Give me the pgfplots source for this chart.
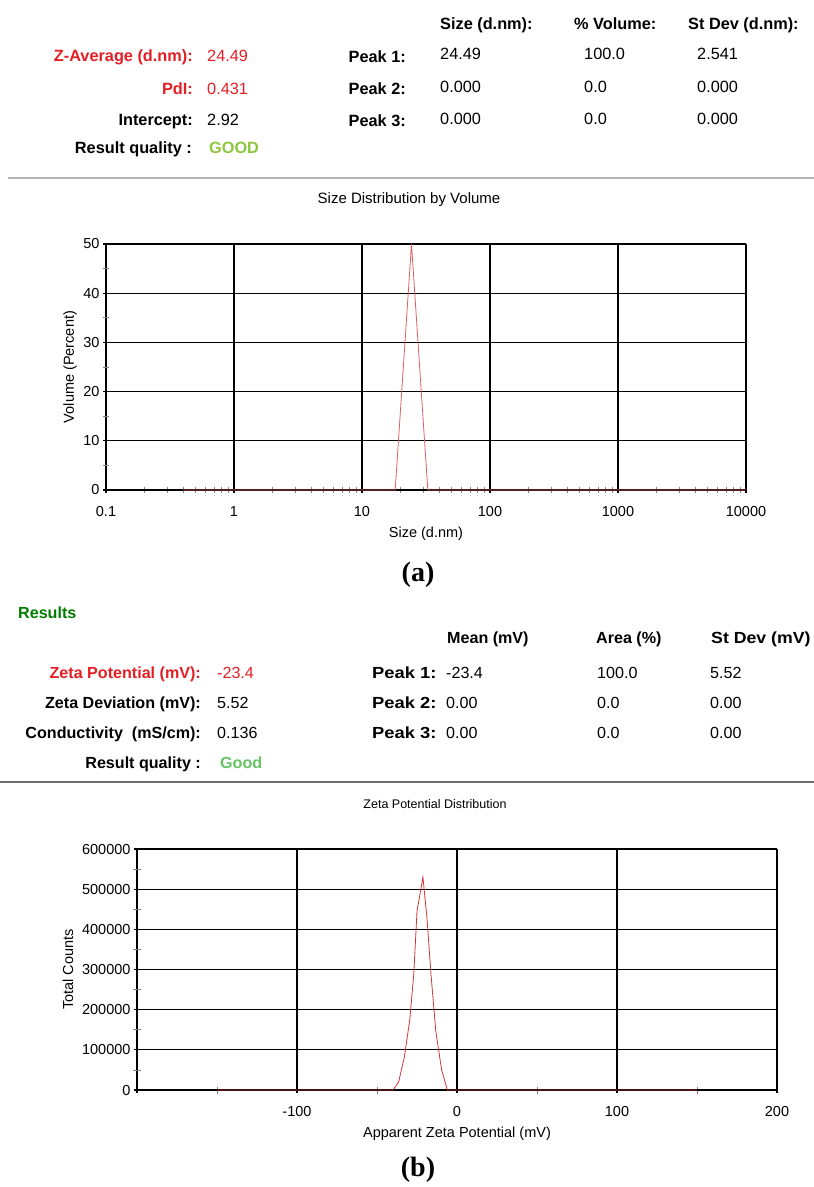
\documentclass[border=0pt]{standalone}
\usepackage{fontspec}
\setmainfont{Liberation Sans}
\newfontfamily\timesfont{Liberation Serif}
\usepackage{graphicx}
\usepackage{pgfplots}
\pgfplotsset{compat=1.18}
\definecolor{zred}{RGB}{228,30,36}
\definecolor{lgreen}{RGB}{141,198,63}
\definecolor{mgreen}{RGB}{100,196,100}
\definecolor{dgreen}{RGB}{0,125,0}
\definecolor{predA}{RGB}{225,95,95}
\definecolor{predB}{RGB}{205,55,55}
\newcommand{\tf}{\fontsize{16.3}{19}\selectfont}
\newcommand{\bff}{\fontsize{16.1}{19}\selectfont}
\newcommand{\tkf}{\fontsize{14.5}{16}\selectfont}
\begin{document}
\begin{tikzpicture}
\path[use as bounding box] (0pt,0pt) rectangle (814pt,-1187pt);
% ---------- top table ----------
\begin{scope}[every node/.style={inner sep=0pt,font=\tf}]
\node[anchor=base west,font=\tf\bfseries] at (440pt,-29pt) {Size (d.nm):};
\node[anchor=base west,font=\tf\bfseries] at (574pt,-29pt) {\% Volume:};
\node[anchor=base west,font=\tf\bfseries] at (688pt,-29pt) {St Dev (d.nm):};
\node[anchor=base east,font=\tf\bfseries,text=zred] at (193pt,-61pt) {Z-Average (d.nm):};
\node[anchor=base west,text=zred] at (207pt,-61pt) {24.49};
\node[anchor=base east,font=\tf\bfseries,text=zred] at (193pt,-94pt) {PdI:};
\node[anchor=base west,text=zred] at (207pt,-94pt) {0.431};
\node[anchor=base east,font=\tf\bfseries] at (193pt,-125pt) {Intercept:};
\node[anchor=base west] at (207pt,-125pt) {2.92};
\node[anchor=base east,font=\tf\bfseries] at (192pt,-153pt) {Result quality :};
\node[anchor=base west,font=\tf\bfseries,text=lgreen] at (209pt,-153pt) {GOOD};
\node[anchor=base east,font=\tf\bfseries] at (406pt,-62pt) {Peak 1:};
\node[anchor=base east,font=\tf\bfseries] at (406pt,-94pt) {Peak 2:};
\node[anchor=base east,font=\tf\bfseries] at (406pt,-126pt) {Peak 3:};
\node[anchor=base west] at (440pt,-59pt) {24.49};
\node[anchor=base west] at (440pt,-92pt) {0.000};
\node[anchor=base west] at (440pt,-124pt) {0.000};
\node[anchor=base west] at (584pt,-59pt) {100.0};
\node[anchor=base west] at (584pt,-92pt) {0.0};
\node[anchor=base west] at (584pt,-124pt) {0.0};
\node[anchor=base west] at (697pt,-59pt) {2.541};
\node[anchor=base west] at (697pt,-92pt) {0.000};
\node[anchor=base west] at (697pt,-124pt) {0.000};
\end{scope}
\draw[line width=1.8pt,color={rgb,255:red,180;green,180;blue,180}] (8pt,-178pt) -- (814pt,-178pt);
\node[font=\fontsize{15}{17}\selectfont] at (409pt,-200pt) {Size Distribution by Volume};
% ---------- plot a ----------
\begin{axis}[
  at={(106pt,-244pt)}, anchor=north west, scale only axis,
  width=640pt, height=246pt,
  xmode=log, xmin=0.1, xmax=10000, ymin=0, ymax=50,
  xtick={0.1,1,10,100,1000,10000},
  xticklabels={0.1,1,10,100,1000,10000},
  ytick={10,20,30,40,50},
  extra y ticks={0}, extra y tick labels={0},
  extra y tick style={grid style={color=gray,line width=1pt}},
  minor ytick={5,15,25,35,45},
  axis line style={draw=none},
  grid=major, major grid style={black,line width=1.3pt},
  tick pos=left, tick align=center,
  major tick length=6pt, minor tick length=6pt,
  major tick style={black,line width=1.2pt},
  minor tick style={gray,line width=0.7pt},
  ticklabel style={font=\tkf},
  /pgf/number format/assume math mode=true,
  xticklabel style={yshift=-10pt},
  xlabel={Size (d.nm)}, ylabel={Volume (Percent)},
  label style={font=\fontsize{14.5}{16}\selectfont},
  xlabel style={at={(axis description cs:0.5,0)},anchor=north,yshift=-33pt},
  ylabel style={at={(axis description cs:0,0.5)},anchor=center,yshift=36pt},
  clip=false,
]
\addplot[predA,line width=0.8pt] coordinates {(0.4,0) (18.17,0) (21.04,25) (24.36,50) (28.21,25) (32.67,0) (10000,0)};
\end{axis}
\node[font=\timesfont\bfseries\fontsize{28}{30}\selectfont] at (418pt,-575pt) {(a)};
% ---------- bottom table ----------
\begin{scope}[every node/.style={inner sep=0pt,font=\bff}]
\node[anchor=base west,font=\bff\bfseries,text=dgreen] at (18pt,-618pt) {Results};
\node[anchor=base west,font=\bff\bfseries] at (447pt,-643pt) {Mean (mV)};
\node[anchor=base west,font=\bff\bfseries] at (596pt,-643pt) {Area (\%)};
\node[anchor=base west,font=\bff\bfseries] at (711pt,-643pt) {\scalebox{1.1}[1]{St Dev (mV)}};
\node[anchor=base east,font=\bff\bfseries,text=zred] at (201pt,-678pt) {Zeta Potential (mV):};
\node[anchor=base west,text=zred] at (217pt,-678pt) {-23.4};
\node[anchor=base east,font=\bff\bfseries] at (201pt,-708pt) {Zeta Deviation (mV):};
\node[anchor=base west] at (217pt,-708pt) {5.52};
\node[anchor=base east,font=\bff\bfseries] at (201pt,-738pt) {Conductivity\ \ (mS/cm):};
\node[anchor=base west] at (217pt,-738pt) {0.136};
\node[anchor=base east,font=\bff\bfseries] at (201pt,-768pt) {Result quality :};
\node[anchor=base west,font=\bff\bfseries,text=mgreen] at (220pt,-768pt) {Good};
\node[anchor=base west,font=\bff\bfseries] at (372pt,-678pt) {\scalebox{1.14}[1]{Peak 1:}};
\node[anchor=base west,font=\bff\bfseries] at (372pt,-708pt) {\scalebox{1.14}[1]{Peak 2:}};
\node[anchor=base west,font=\bff\bfseries] at (372pt,-738pt) {\scalebox{1.14}[1]{Peak 3:}};
\node[anchor=base west] at (446pt,-678pt) {-23.4};
\node[anchor=base west] at (446pt,-708pt) {0.00};
\node[anchor=base west] at (446pt,-738pt) {0.00};
\node[anchor=base west] at (597pt,-678pt) {100.0};
\node[anchor=base west] at (597pt,-708pt) {0.0};
\node[anchor=base west] at (597pt,-738pt) {0.0};
\node[anchor=base west] at (710pt,-678pt) {5.52};
\node[anchor=base west] at (710pt,-708pt) {0.00};
\node[anchor=base west] at (710pt,-738pt) {0.00};
\end{scope}
\draw[line width=1.6pt,color={rgb,255:red,110;green,110;blue,110}] (0pt,-782pt) -- (814pt,-782pt);
\node[font=\fontsize{12.5}{14}\selectfont] at (435pt,-804pt) {Zeta Potential Distribution};
% ---------- plot b ----------
\begin{axis}[
  at={(137pt,-849pt)}, anchor=north west, scale only axis,
  width=640pt, height=241pt,
  xmin=-200, xmax=200, ymin=0, ymax=600000,
  xtick={-200,-100,0,100,200},
  xticklabels={,-100,0,100,200},
  minor xtick={-150,-50,50,150},
  ytick={100000,200000,300000,400000,500000,600000},
  yticklabels={100000,200000,300000,400000,500000,600000},
  extra y ticks={0}, extra y tick labels={0},
  extra y tick style={grid style={color=gray,line width=1pt}},
  minor ytick={50000,150000,250000,350000,450000,550000},
  scaled y ticks=false,
  axis line style={draw=none},
  grid=major, major grid style={black,line width=1.3pt},
  tick pos=left, tick align=center,
  major tick length=6pt, minor tick length=7pt,
  major tick style={black,line width=1.2pt},
  minor tick style={gray,line width=0.7pt},
  ticklabel style={font=\tkf},
  /pgf/number format/assume math mode=true,
  xticklabel style={yshift=-10pt},
  xlabel={Apparent Zeta Potential (mV)}, ylabel={Total Counts},
  label style={font=\fontsize{14.5}{16}\selectfont},
  xlabel style={at={(axis description cs:0.5,0)},anchor=north,yshift=-33pt},
  ylabel style={at={(axis description cs:0,0.5)},anchor=center,yshift=69pt},
  clip=false,
]
\addplot[predB,line width=0.8pt] coordinates {(-150,0) (-40,0) (-36.5,20000) (-33,80000) (-29.5,175000) (-27,290000) (-25,445000) (-21.3,530000) (-18.8,430000) (-16.3,290000) (-13.2,145000) (-9.6,50000) (-6,0) (150,0)};
\end{axis}
\node[font=\timesfont\bfseries\fontsize{28}{30}\selectfont] at (418pt,-1170pt) {(b)};
\end{tikzpicture}
\end{document}
